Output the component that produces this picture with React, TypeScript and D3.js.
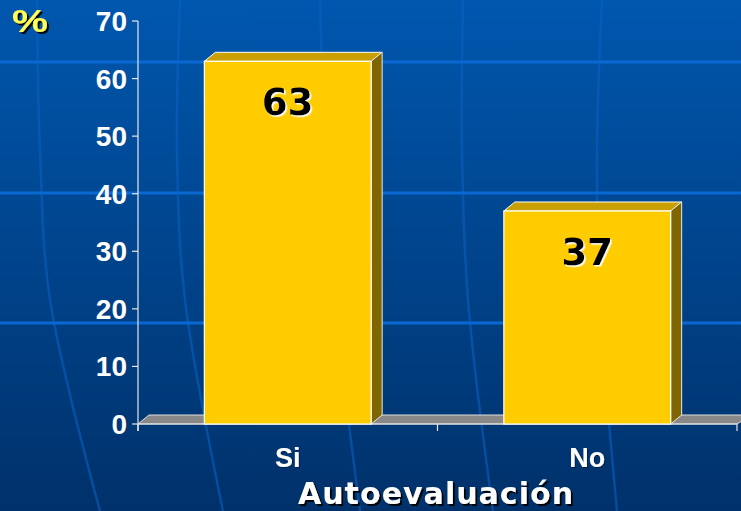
import * as d3 from "d3";

const categories = ["Si", "No"];
const values = [63, 37];
const yTicks = [0, 10, 20, 30, 40, 50, 60, 70];
const axisTitle = "Autoevaluación";
const unitLabel = "%";

const W = 741;
const H = 511;

// decorative template lines (globe meridians and horizontal bands)
const bandLines = [62, 193, 323];
const meridians = [
  [[37, 0], [40, 150], [50, 300], [100, 511]],
  [[180, 0], [177, 150], [185, 300], [223, 511]],
  [[320, 0], [325, 150], [335, 300], [360, 511]],
  [[463, 0], [462, 150], [468, 300], [493, 511]],
  [[602, 0], [597, 150], [600, 300], [617, 511]],
];

export default function App() {
  const margin = { top: 21, left: 138, right: 4, bottom: 87 };
  const y0 = H - margin.bottom;
  const depth = { dx: 11, dy: -9 };

  const x = d3
    .scaleBand<string>()
    .domain(categories)
    .range([margin.left, W - margin.right])
    .padding(0);

  const y = d3.scaleLinear().domain([0, 70]).range([y0, margin.top]);

  const barW = x.bandwidth() * 0.557;
  const curve = d3.line().curve(d3.curveCatmullRom);

  const font = "'Liberation Sans', Arial, sans-serif";
  const wideFont = "'DejaVu Sans', Verdana, sans-serif";

  return (
    <svg
      width={W}
      height={H}
      style={{ position: "absolute", left: 0, top: 0, display: "block" }}
    >
      <defs>
        <linearGradient id="bg" x1="0" y1="0" x2="0" y2="1">
          <stop offset="0%" stopColor="#0057AE" />
          <stop offset="100%" stopColor="#00316A" />
        </linearGradient>
        <filter id="darkShadow" x="-10%" y="-10%" width="130%" height="140%">
          <feDropShadow dx={2} dy={2} stdDeviation={0.4} floodColor="#000000" floodOpacity={0.9} />
        </filter>
        <filter id="softShadow" x="-10%" y="-10%" width="130%" height="140%">
          <feDropShadow dx={1} dy={1} stdDeviation={0.3} floodColor="#001A40" floodOpacity={0.8} />
        </filter>
        <filter id="whiteShadow" x="-10%" y="-10%" width="130%" height="140%">
          <feDropShadow dx={1.5} dy={1.5} stdDeviation={0.2} floodColor="#FFFFFF" floodOpacity={1} />
        </filter>
      </defs>
      <rect width={W} height={H} fill="url(#bg)" />

      {meridians.map((pts, i) => (
        <path
          key={"m" + i}
          d={curve(pts as [number, number][]) || ""}
          fill="none"
          stroke="#0A62C4"
          strokeOpacity={0.55}
          strokeWidth={2.5}
        />
      ))}
      {bandLines.map((by) => (
        <line
          key={"b" + by}
          x1={0}
          x2={W}
          y1={by}
          y2={by}
          stroke="#0A68D2"
          strokeWidth={3}
        />
      ))}

      {/* floor */}
      <polygon
        points={[
          [margin.left, y0],
          [margin.left + depth.dx, y0 + depth.dy],
          [W + depth.dx, y0 + depth.dy],
          [W - margin.right, y0],
        ]
          .map((p) => p.join(","))
          .join(" ")}
        fill="#888888"
        stroke="#DDDDDD"
        strokeWidth={1}
      />

      {/* y axis */}
      <line
        x1={margin.left}
        x2={margin.left}
        y1={y(70)}
        y2={y0 + 7}
        stroke="#E8E8E8"
        strokeWidth={1.2}
      />
      {yTicks.map((t) => (
        <g key={"yt" + t}>
          <line
            x1={margin.left - 6}
            x2={margin.left}
            y1={y(t)}
            y2={y(t)}
            stroke="#E8E8E8"
            strokeWidth={1.2}
          />
          <text
            x={margin.left - 11}
            y={y(t) + 10}
            textAnchor="end"
            fill="#FFFFFF"
            fontFamily={font}
            fontWeight="bold"
            fontSize={28}
          >
            {t}
          </text>
        </g>
      ))}

      {/* x axis */}
      <line
        x1={margin.left}
        x2={W - margin.right}
        y1={y0}
        y2={y0}
        stroke="#E8E8E8"
        strokeWidth={1.2}
      />
      {[...categories.map((c) => x(c) as number), W - margin.right].map((tx, i) => (
        <line
          key={"xt" + i}
          x1={tx}
          x2={tx}
          y1={y0}
          y2={y0 + 7}
          stroke="#E8E8E8"
          strokeWidth={1.2}
        />
      ))}

      {/* bars */}
      {categories.map((c, i) => {
        const bx = (x(c) as number) + (x.bandwidth() - barW) / 2;
        const top = y(values[i]);
        const { dx, dy } = depth;
        const topFace = [
          [bx, top],
          [bx + dx, top + dy],
          [bx + barW + dx, top + dy],
          [bx + barW, top],
        ];
        const sideFace = [
          [bx + barW, top],
          [bx + barW + dx, top + dy],
          [bx + barW + dx, y0 + dy],
          [bx + barW, y0],
        ];
        const cx = bx + barW / 2;
        return (
          <g key={c}>
            <polygon
              points={topFace.map((p) => p.join(",")).join(" ")}
              fill="#C9A000"
              stroke="#FFFFFF"
              strokeWidth={1}
            />
            <polygon
              points={sideFace.map((p) => p.join(",")).join(" ")}
              fill="#806600"
              stroke="#E8E8E8"
              strokeWidth={1}
            />
            <rect
              x={bx}
              y={top}
              width={barW}
              height={y0 - top}
              fill="#FFCC00"
              stroke="#FFFFFF"
              strokeWidth={1.2}
            />
            <text
              x={cx}
              y={top + 54}
              textAnchor="middle"
              fill="#000000"
              fontFamily={wideFont}
              fontWeight="bold"
              fontSize={37}
              filter="url(#whiteShadow)"
            >
              {values[i]}
            </text>
            <text
              x={(x(c) as number) + x.bandwidth() / 2}
              y={467}
              textAnchor="middle"
              fill="#FFFFFF"
              fontFamily={font}
              fontWeight="bold"
              fontSize={27}
              filter="url(#softShadow)"
            >
              {c}
            </text>
          </g>
        );
      })}

      {/* axis title */}
      <text
        x={435.5}
        y={504}
        textAnchor="middle"
        fill="#FFFFFF"
        fontFamily={wideFont}
        fontWeight="bold"
        fontSize={30}
        textLength={275}
        lengthAdjust="spacing"
        filter="url(#darkShadow)"
      >
        {axisTitle}
      </text>

      {/* unit label */}
      <text
        x={12}
        y={32}
        fill="#FFFF55"
        fontFamily={font}
        fontWeight="bold"
        fontSize={31}
        textLength={36}
        lengthAdjust="spacingAndGlyphs"
        filter="url(#darkShadow)"
      >
        {unitLabel}
      </text>
    </svg>
  );
}
